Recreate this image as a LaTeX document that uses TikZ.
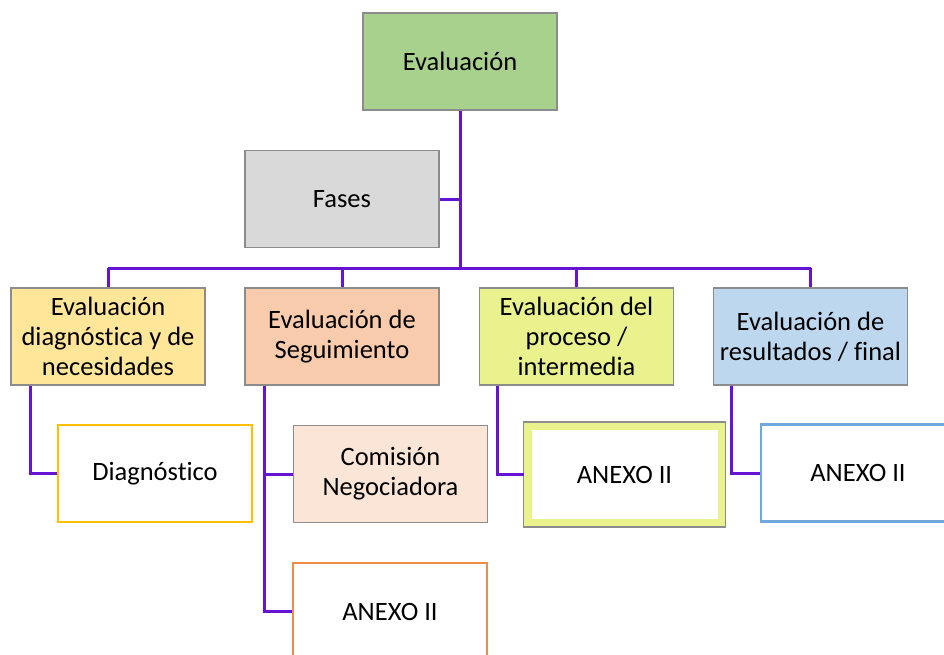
\documentclass[tikz,border=0pt]{standalone}
\usepackage{fontspec}
\setmainfont{Carlito}[Ligatures=NoCommon]
\usepackage{tikz}
\definecolor{linkpurple}{HTML}{6414D2}
\definecolor{boxgray}{HTML}{8C8C8C}
\definecolor{evalgreen}{HTML}{A9D18E}
\definecolor{fasesgray}{HTML}{D9D9D9}
\definecolor{diagyellow}{HTML}{FFE699}
\definecolor{seguipeach}{HTML}{F8CBAD}
\definecolor{procelime}{HTML}{EAF28E}
\definecolor{resulblue}{HTML}{BDD7EE}
\definecolor{comipeach}{HTML}{FBE5D6}
\definecolor{diaggold}{HTML}{FFC000}
\definecolor{anexorange}{HTML}{F08C46}
\definecolor{anexblue}{HTML}{6FA8DC}

\begin{document}
\begin{tikzpicture}[
  x=1pt, y=-1pt,
  every node/.style={minimum width=194pt, minimum height=97pt, inner sep=0pt,
    align=center, font=\fontsize{26.5}{30}\selectfont},
  box/.style={draw=boxgray, line width=1.5pt},
  frame/.style={draw=#1, line width=2.5pt, fill=white},
  link/.style={draw=linkpurple, line width=3pt}
]
  \useasboundingbox (0,0) rectangle (944,655);

  % Top
  \node[box, fill=evalgreen] (eval) at (460,61.5) {Evaluación};
  \node[box, fill=fasesgray] (fases) at (342,199) {Fases};

  % Phases
  \node[box, fill=diagyellow] (b1) at (108,336.5) {Evaluación\\diagnóstica y de\\necesidades};
  \node[box, fill=seguipeach] (b2) at (342,336.5) {Evaluación de\\Seguimiento};
  \node[box, fill=procelime] (b3) at (576.5,336.5) {Evaluación del\\proceso /\\intermedia};
  \node[box, fill=resulblue] (b4) at (810.5,336.5) {Evaluación de\\resultados / final};

  % Documents
  \node[frame=diaggold] (diag) at (155,473.5) {Diagnóstico};
  \node[box, fill=comipeach] (comi) at (390.5,474) {Comisión\\Negociadora};
  \node[frame=anexorange] (ax2) at (390,611.5) {ANEXO II};
  \node[draw=procelime, line width=8pt, fill=white] (ax3) at (624.5,474.5) {ANEXO II};
  \draw[boxgray, line width=1.2pt] (ax3.north west) rectangle (ax3.south east);
  \node[frame=anexblue] (ax4) at (858,473) {ANEXO II};

  % Trunk and bar
  \coordinate (bar) at (460,268);
  \draw[link] (eval.south) -- (bar);
  \draw[link] (fases.east) -- (fases.east -| eval.south);
  \draw[link] (bar -| b1.north) -- (bar -| b4.north);
  \foreach \i in {1,2,3,4} {
    \draw[link] (bar -| b\i.north) -- (b\i.north);
  }

  % Branches
  \draw[link] ([xshift=20pt]b1.south west) |- (diag.west);
  \draw[link] ([xshift=20pt]b2.south west) |- (comi.west);
  \draw[link] ([xshift=20pt]b2.south west) |- (ax2.west);
  \draw[link] ([xshift=19pt]b3.south west) |- (ax3.west);
  \draw[link] ([xshift=19pt]b4.south west) |- (ax4.west);
\end{tikzpicture}
\end{document}
